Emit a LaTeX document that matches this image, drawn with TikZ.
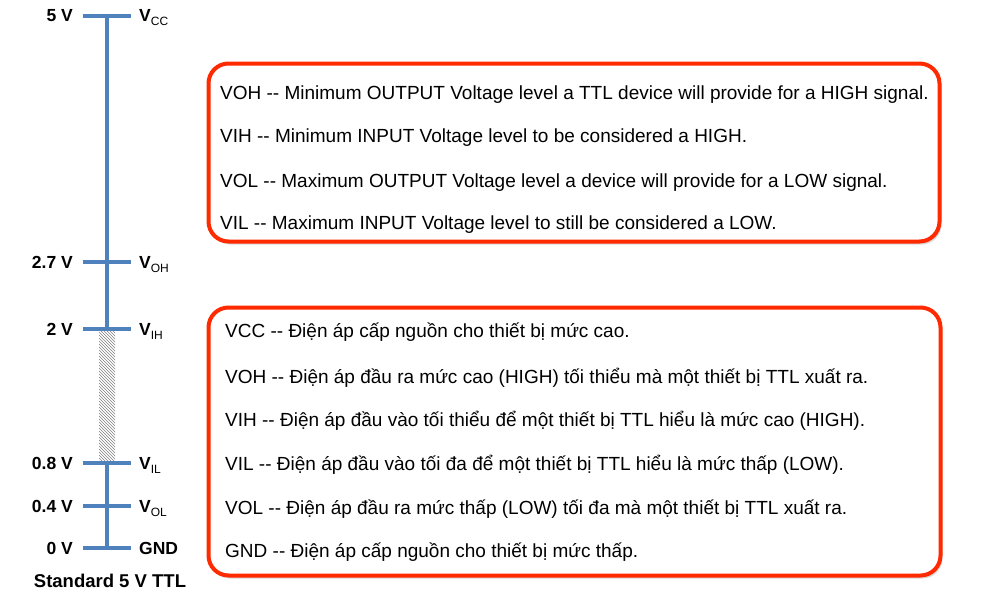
\documentclass[tikz,border=0pt]{standalone}
\usepackage{fontspec}
\setmainfont{Liberation Sans}
\usetikzlibrary{patterns,shadows}
\definecolor{axisblue}{HTML}{4F81BD}
\definecolor{boxred}{HTML}{FF2A00}
\begin{document}
\begin{tikzpicture}[x=1pt,y=-1pt,
  axis/.style={draw=axisblue,line width=4pt},
  lbl/.style={anchor=base east,inner sep=0pt,font=\fontsize{17.5}{20}\selectfont\bfseries},
  rlbl/.style={anchor=base west,inner sep=0pt,font=\fontsize{17.5}{20}\selectfont\bfseries},
  boxtxt/.style={anchor=base west,inner sep=0pt,font=\fontsize{19}{22}\selectfont},
  infobox/.style={draw=boxred,line width=4pt,rounded corners=20pt,fill=white,
    drop shadow={shadow xshift=2pt,shadow yshift=-3pt,opacity=0.3},inner sep=0pt}]
\newcommand{\sbs}[1]{{\fontsize{12}{12}\selectfont\mdseries\raisebox{-4pt}{#1}}}
\useasboundingbox (0,0) rectangle (1000,602);
% axis coordinates
\coordinate (a5) at (107,16);
\coordinate (a27) at (107,262);
\coordinate (a2) at (107,329);
\coordinate (a08) at (107,463);
\coordinate (a04) at (107,506);
\coordinate (a0) at (107,548);
\fill[pattern=north west lines,pattern color=gray] (99,331) rectangle (115,461);
\draw[axis] (a5) -- (a2);
\draw[axis] (a08) -- (a0);
\foreach \c in {a5,a27,a2,a08,a04,a0}{
  \draw[axis] ([xshift=-24pt]\c) -- ([xshift=24pt]\c);
}
% left labels
\node[lbl] (l5) at (73,22) {5 V};
\node[lbl] (l27) at (73,268) {2.7 V};
\node[lbl] (l2) at (73,335) {2 V};
\node[lbl] (l08) at (73,469) {0.8 V};
\node[lbl] (l04) at (73,512) {0.4 V};
\node[lbl] (l0) at (73,554) {0 V};
% right labels
\node[rlbl] (rvcc) at (139,22) {V\sbs{CC}};
\node[rlbl] (rvoh) at (139,268) {V\sbs{OH}};
\node[rlbl] (rvih) at (139,335) {V\sbs{IH}};
\node[rlbl] (rvil) at (139,469) {V\sbs{IL}};
\node[rlbl] (rvol) at (139,512) {V\sbs{OL}};
\node[rlbl] (rgnd) at (139,554) {GND};
\node[anchor=base,inner sep=0pt,font=\fontsize{18.5}{20}\selectfont\bfseries] (std) at (110,587) {Standard 5 V TTL};
% boxes
\node[infobox,minimum width=731pt,minimum height=178pt] (box1) at (574,152.5) {};
\node[infobox,minimum width=732pt,minimum height=268pt] (box2) at (574.5,441.5) {};
% box 1 text
\node[boxtxt] (t1) at (220,99) {VOH -{}- Minimum OUTPUT Voltage level a TTL device will provide for a HIGH signal.};
\node[boxtxt] (t2) at (220,142) {VIH -{}- Minimum INPUT Voltage level to be considered a HIGH.};
\node[boxtxt] (t3) at (220,187) {VOL -{}- Maximum OUTPUT Voltage level a device will provide for a LOW signal.};
\node[boxtxt] (t4) at (220,229) {VIL -{}- Maximum INPUT Voltage level to still be considered a LOW.};
% box 2 text
\node[boxtxt] (u1) at (225,337) {VCC -{}- Điện áp cấp nguồn cho thiết bị mức cao.};
\node[boxtxt] (u2) at (225,383) {VOH -{}- Điện áp đầu ra mức cao (HIGH) tối thiểu mà một thiết bị TTL xuất ra.};
\node[boxtxt] (u3) at (225,426) {VIH -{}- Điện áp đầu vào tối thiểu để một thiết bị TTL hiểu là mức cao (HIGH).};
\node[boxtxt] (u4) at (225,470) {VIL -{}- Điện áp đầu vào tối đa để một thiết bị TTL hiểu là mức thấp (LOW).};
\node[boxtxt] (u5) at (225,514) {VOL -{}- Điện áp đầu ra mức thấp (LOW) tối đa mà một thiết bị TTL xuất ra.};
\node[boxtxt] (u6) at (225,557) {GND -{}- Điện áp cấp nguồn cho thiết bị mức thấp.};
\end{tikzpicture}
\end{document}
